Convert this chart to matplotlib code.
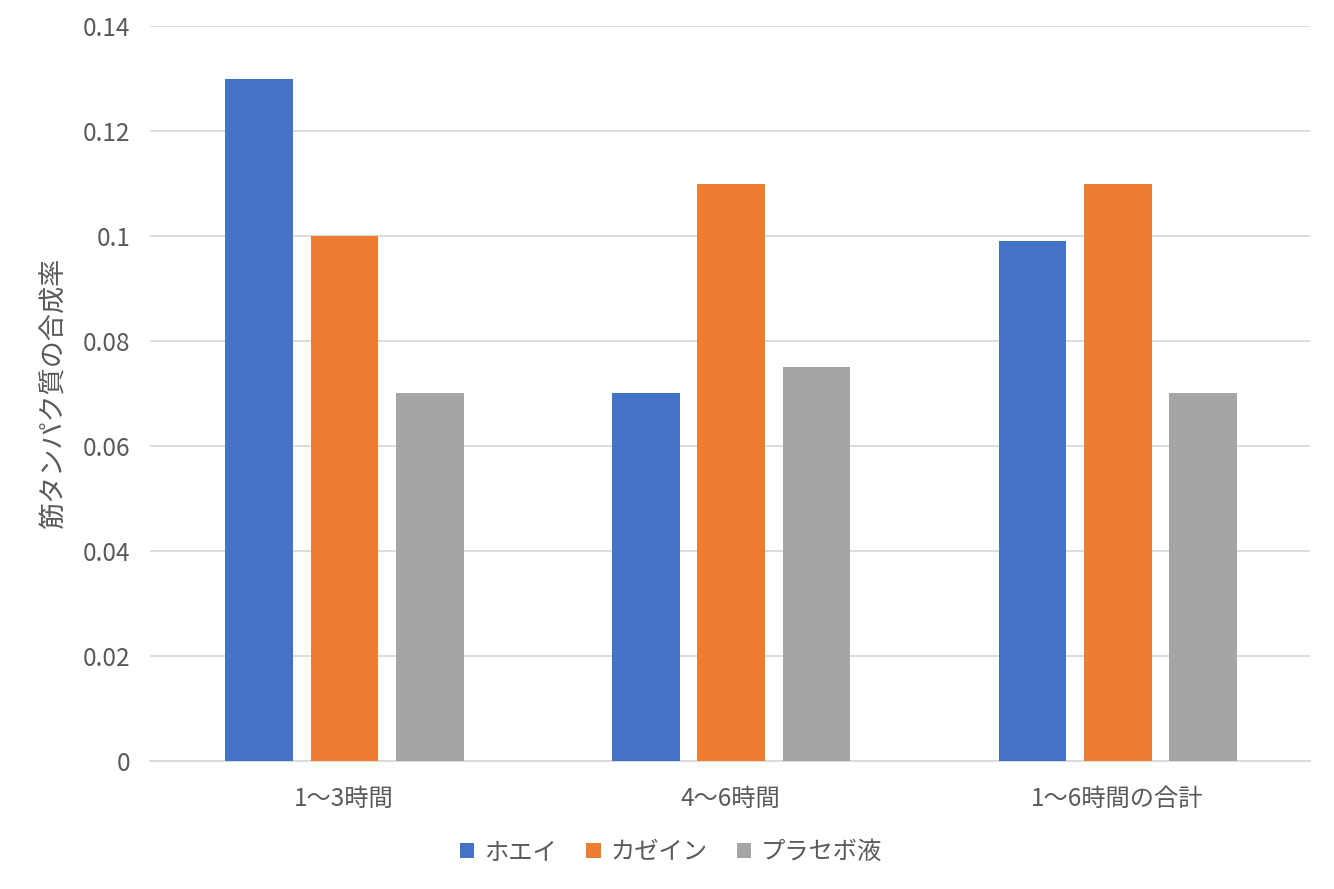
import matplotlib
matplotlib.use("Agg")
import matplotlib.pyplot as plt
import numpy as np

plt.rcParams['font.family'] = ['Noto Sans CJK JP', 'DejaVu Sans']

categories = ["1～3時間", "4～6時間", "1～6時間の合計"]
series_names = ["ホエイ", "カゼイン", "プラセボ液"]
whey = [0.13, 0.07, 0.099]
casein = [0.10, 0.11, 0.11]
placebo = [0.07, 0.075, 0.07]
colors = ["#4472C4", "#ED7D31", "#A5A5A5"]
yticks = [0, 0.02, 0.04, 0.06, 0.08, 0.1, 0.12, 0.14]
ytick_labels = ["0", "0.02", "0.04", "0.06", "0.08", "0.1", "0.12", "0.14"]
ylabel = "筋タンパク質の合成率"

fig = plt.figure(figsize=(13.34, 8.89), dpi=100)
ax = fig.add_axes([150/1334, 1-761/889, 1160/1334, (761-26)/889])

x = np.arange(len(categories))
w = 0.175
step = 0.221
text_color = "#595959"
for i, (vals, name, c) in enumerate(zip([whey, casein, placebo], series_names, colors)):
    ax.bar(x + 0.003 + (i-1)*step, vals, width=w, color=c, label=name, zorder=3)

ax.set_xlim(-0.5, 2.5)
ax.set_ylim(0, 0.14)
ax.set_yticks(yticks)
ax.set_yticklabels(ytick_labels)
ax.set_xticks(x)
ax.set_xticklabels(categories)
ax.tick_params(axis='both', length=0, colors=text_color, labelsize=17.5)
ax.tick_params(axis='y', pad=14)
ax.tick_params(axis='x', pad=18)
ax.grid(axis='y', color="#D9D9D9", linewidth=1.3, zorder=0)
for s in ['top', 'right', 'left']:
    ax.spines[s].set_visible(False)
ax.spines['bottom'].set_color("#D9D9D9")
ax.spines['bottom'].set_linewidth(1.3)
ax.set_ylabel(ylabel, fontsize=19.5, color=text_color, labelpad=11)

leg = fig.legend(loc='center', bbox_to_anchor=(671/1334, 1-852/889), ncol=3, frameon=False,
                 fontsize=17.5, handlelength=0.6, handleheight=0.6, handletextpad=0.4,
                 columnspacing=1.2)
for t in leg.get_texts():
    t.set_color(text_color)

fig.savefig("out.png", dpi=100)
